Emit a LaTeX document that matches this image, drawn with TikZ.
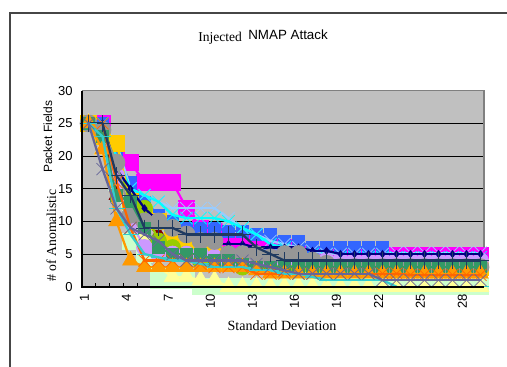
\documentclass[tikz,border=0pt]{standalone}
\usepackage{fontspec}
\setmainfont{Liberation Serif}
\newfontfamily\arial{Liberation Sans}
\usetikzlibrary{plotmarks}

\definecolor{framegray}{RGB}{70,70,70}
\definecolor{areagray}{RGB}{192,192,192}
\definecolor{edgegray}{RGB}{128,128,128}
\definecolor{paleyellow}{HTML}{FFFF99}
\definecolor{palegreen}{HTML}{CCFFCC}
\definecolor{pink}{HTML}{FF00FF}
\definecolor{royal}{HTML}{3366FF}
\definecolor{sky}{HTML}{99CCFF}
\definecolor{aqua}{HTML}{00FFFF}
\definecolor{maroon}{HTML}{800000}
\definecolor{gold}{HTML}{FFCC00}
\definecolor{lime}{HTML}{99CC00}
\definecolor{lavender}{HTML}{CC99FF}
\definecolor{navy}{HTML}{000080}
\definecolor{stone}{HTML}{969696}
\definecolor{seagreen}{HTML}{339966}
\definecolor{amber}{HTML}{FF9900}
\definecolor{rust}{HTML}{FF6600}
\definecolor{ink}{HTML}{1F3A60}
\definecolor{turq}{HTML}{33CCCC}
\definecolor{slate}{HTML}{666699}

% one data series: colour, mark, mark settings, values for 1..29
\newcommand\dataline[4]{%
  \foreach \v [count=\i, remember=\v as \lastv (initially 25)] in {#4}
    {\ifnum\i>1 \draw[#1, line width=.45mm, line cap=round] (\i-1,\lastv) -- (\i,\v);\fi}
  \foreach \v [count=\i] in {#4}
    \draw[#1] plot[mark=#2, #3] coordinates {(\i,\v)};
}

\begin{document}
\begin{tikzpicture}[x=0.2mm, y=-0.2mm]
	\useasboundingbox (0,0) rectangle (507,367);
	% outer frame
	\draw[framegray, line width=.25mm] (10,367) -- (10,13) -- (507,13);
	% title
	\node (inj) [anchor=base west, inner sep=0, font=\fontsize{7.7}{9}\selectfont] at (198,41.5) {Injected};
	\node (nmap) [anchor=base west, inner sep=0, font=\arial\fontsize{7.6}{9}\selectfont] at (248,39.3) {NMAP Attack};
	% plot area
	\fill[areagray] (81.7,90.7) rectangle (484,286.7);
	\foreach \v in {5,10,...,25}
		\draw[black, line width=.2mm] (81.7,{286.7-6.533*\v}) -- (484,{286.7-6.533*\v});
	\draw[edgegray, line width=.3mm] (81.7,90.7) -- (484,90.7) -- (484,286.7);
	% x ticks
	\foreach \k in {0,...,28}
		\draw[black, line width=.2mm] ({81.7+14*\k},286.7) -- ({81.7+14*\k},283.3);
	% data
	\begin{scope}[shift={(74.5,286.7)}, x=2.8mm, y=1.3067mm]
		\dataline{palegreen}{square*}{mark size=1.6mm}{25,23,16,7,5,1,1,1,0,0,0,0,0,0,0,0,0,0,0,0,0,0,0,0,0,0,0,0,0}
		\dataline{paleyellow}{triangle*}{mark size=1.9mm}{25,21,19,12,8,3,1.5,1.5,1,1,0,0,0,0,0,0,0,0,0,0,0,0,0,0,0,0,0,0,0}
		\dataline{pink}{square*}{mark size=1.6mm}{25,25,21,19,16,16,16,12,9,8.5,7,7,6.5,6,6,5,4.8,4.8,4.8,4.8,4.8,4.8,4.8,4.8,4.8,4.8,4.8,4.8,4.8}
		\dataline{royal}{square*}{mark size=1.15mm}{25,25,20,16,13,11,10,9,9,9,8.5,8.5,8,8,7,7,6,6,6,6,6,6,4,4,4,4,4,4,4}
		\dataline{sky}{x}{mark size=1.75mm, line width=.4mm}{25,25,22,15,14,13,12,12,12,12,10.5,9,8,7,6.5,6,5.5,5,5,5,5,5,5.2,5.2,5.2,5.2,5.2,5.2,5.2}
		\dataline{aqua}{x}{mark size=1.75mm, line width=.4mm}{25,25,20,15,14,13,11,10.5,10.5,10.5,10,9,8,6.5,6,5,5,4.5,4.5,4.5,4.5,4.5,4.5,4.5,4.5,4.5,4.5,4.5,4.5}
		\dataline{maroon}{triangle*}{mark size=1.7mm}{25,24,14,12,10,8,6,5,4,4,4,3.5,3.5,3.5,3.5,3.5,3.5,3.5,3.5,3.5,3.5,3.5,3.5,3.5,3.5,3.5,3.5,3.5,3.5}
		\dataline{gold}{square*}{mark size=1.6mm}{25,23,22,13,11,10,8,7,7,5,4,4,4,4,4,4,3.5,3,3,3,3,3,3,3,3,3,3,3,3}
		\dataline{lime}{*}{mark size=1.6mm}{25,24,19,13,12,7,6,5,4,4,4,3,3,3,3,3,3,3,3,3,3,3,3,3,3,3,3,3,3}
		\dataline{lavender}{*}{mark size=1.6mm}{25,24,17,10,6,5,5,5,5,4.5,4,4,4,4,4,4,4,4,4,4,4,4,4,4,4,4,4,4,4}
		\dataline{navy}{diamond*}{mark size=.7mm}{25,25,18,15,12,10,9,8,7,6.5,6.5,6.5,6,6,6,6,5.5,5.5,5,5,5,5,5,5,5,5,5,5,5}
		\dataline{stone}{*}{mark size=1.7mm}{25,24,19,11,10,10,9,8,7,7,5,5,5,4.5,5,5,4,3.5,3,3,3,3,3,3,3,3,3,3,3}
		\dataline{seagreen}{square*}{mark size=1.15mm}{25,23,14,13,9,6,5,5,5,4,4,3.5,3,3,3,3,3,3,3,3,3,3,3,3,3,3,3,3,3}
		\dataline{amber}{triangle*}{mark size=1.8mm}{25,21,10,4,3,3,3,3,3,3,3,3,2.5,2,2,2,2,2,2,2,2,2,2,2,2,2,2,2,2}
		\dataline{rust}{x}{mark size=1.7mm, line width=.45mm}{25,25,16,9,4,4,4,4,3.5,3,3,3,2,2,2,2,2,2,2,2,2,2,2,1.8,1.8,1.8,1.8,1.8,1.8}
		\dataline{ink}{+}{mark size=1.65mm, line width=.55mm}{25,25,17,14,9,9,9,8,8,8,8,8,6,5,4,4,4,4,4,4,4,4,4,4,4,4,4,4,4}
		\dataline{turq}{-}{mark size=1.6mm, line width=.8mm}{25,23,12,8,5,4.5,4,4,3.5,3,3,3,2.5,2.5,2,2,1.5,1,1,1,1,1,0,0,0,0,0,0,0}
		\dataline{slate}{x}{mark size=1.7mm, line width=.45mm}{25,18,12,9,8,7,5,4,4,4,4,4,3.5,3,2.5,2,2,2,2,2,2,1,1,1,1,1,1,1,1}
	\end{scope}
	% axes
	\draw[black, line width=.35mm] (81.7,90.7) -- (81.7,286.7) -- (484,286.7);
	% y tick labels
	\foreach \v in {0,5,...,30}
		\node[anchor=east, inner sep=0, font=\arial\fontsize{7.4}{8}\selectfont] at (73,{286.7-6.533*\v}) {\v};
	% x tick labels
	\foreach \c in {1,4,...,28}
		\node[anchor=east, rotate=90, inner sep=0, font=\arial\fontsize{7.4}{8}\selectfont] at ({84.5+14*(\c-1)},294) {\c};
	% axis titles
	\node (xlab) [anchor=base, inner sep=0, font=\fontsize{8}{9}\selectfont] at (282,330) {Standard Deviation};
	\node (ylab) [anchor=base west, rotate=90, inner sep=0, font=\fontsize{7.8}{9}\selectfont] at (56,282) {\# of Anomalistic};
	\node (yunit) [anchor=base west, rotate=90, inner sep=0, font=\arial\fontsize{6.8}{8}\selectfont] at (52,173) {Packet Fields};
\end{tikzpicture}
\end{document}
